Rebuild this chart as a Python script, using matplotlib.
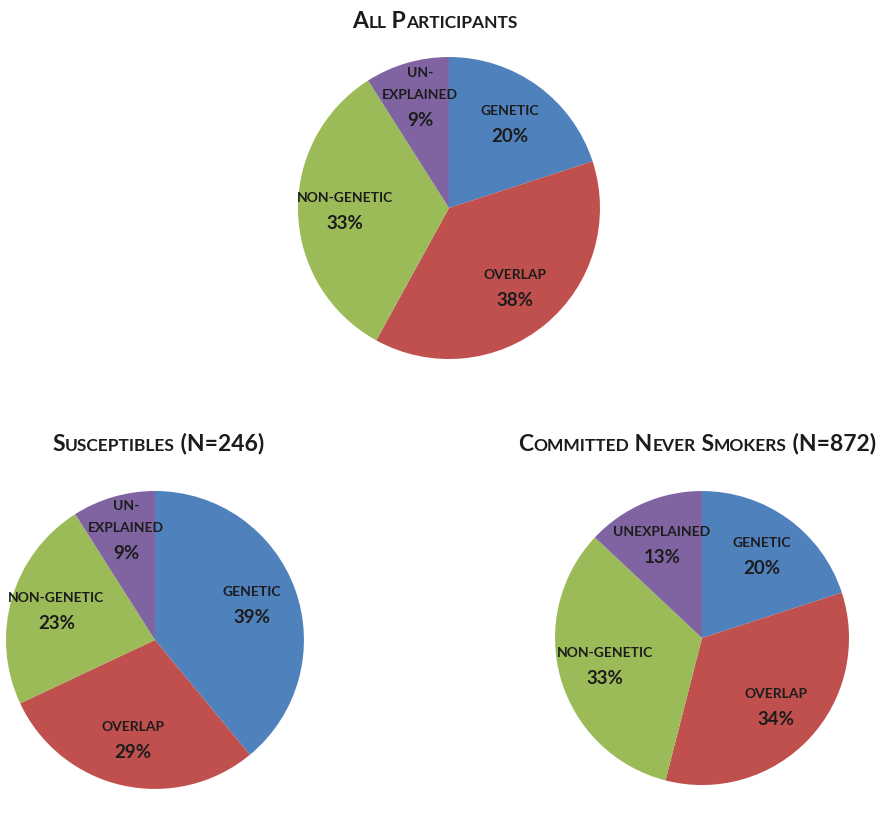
import matplotlib
matplotlib.use("Agg")
import matplotlib.pyplot as plt
from matplotlib.offsetbox import TextArea, HPacker, AnnotationBbox
from matplotlib.transforms import offset_copy

# data
labels_all = ["GENETIC", "OVERLAP", "NON-GENETIC", "UN-\nEXPLAINED"]
values_all = [20, 38, 33, 9]

labels_sus = ["GENETIC", "OVERLAP", "NON-GENETIC", "UN-\nEXPLAINED"]
values_sus = [39, 29, 23, 9]

labels_cns = ["GENETIC", "OVERLAP", "NON-GENETIC", "UNEXPLAINED"]
values_cns = [20, 34, 33, 13]

titles = ["All Participants", "Susceptibles (N=246)", "Committed Never Smokers (N=872)"]

colors = ["#4F81BD", "#C0504D", "#9BBB59", "#8064A2"]
FONT = "Lato"
TXT = "#1c1c1c"

fig = plt.figure(figsize=(8.8, 8.18), dpi=100)


def draw_pie(rect, values, labels, dist=0.69):
    ax = fig.add_axes(rect)
    wedges, texts, pcts = ax.pie(
        values, labels=labels, colors=colors, startangle=90, counterclock=False,
        labeldistance=dist, pctdistance=dist, autopct="%1.0f%%",
        wedgeprops=dict(linewidth=0),
        textprops=dict(family=FONT, fontweight="bold", color=TXT))
    # name above the anchor point, percentage below, with a gap like Excel's
    for t in texts:
        t.set_ha("center")
        t.set_va("bottom")
        t.set_fontsize(10)
        t.set_linespacing(2.0)
        t.set_transform(offset_copy(ax.transData, fig=fig, y=7, units="dots"))
    for p in pcts:
        p.set_ha("center")
        p.set_va("top")
        p.set_fontsize(13.5)
        p.set_transform(offset_copy(ax.transData, fig=fig, y=-4, units="dots"))
    ax.set_xlim(-1, 1)
    ax.set_ylim(-1, 1)
    ax.set_aspect("equal")
    ax.axis("off")
    return ax


def small_caps_title(text, x, y, big=16.5, small=12.5):
    # fake small caps: capitals at full size, lower case letters upper-cased and smaller
    runs = []
    for ch in text:
        size = small if ch.islower() else big
        if runs and runs[-1][1] == size:
            runs[-1][0] += ch.upper()
        else:
            runs.append([ch.upper(), size])
    parts = [TextArea(s, textprops=dict(family=FONT, fontweight="bold", fontsize=sz, color=TXT))
             for s, sz in runs]
    box = HPacker(children=parts, align="baseline", pad=0, sep=0)
    ab = AnnotationBbox(box, (x, y), xycoords="figure fraction", frameon=False,
                        box_alignment=(0.5, 0.5), pad=0)
    fig.add_artist(ab)


draw_pie([0.3386, 0.5611, 0.3432, 0.3692], values_all, labels_all)
draw_pie([0.0068, 0.0355, 0.3386, 0.3643], values_sus, labels_sus)
draw_pie([0.6307, 0.0403, 0.3341, 0.3594], values_cns, labels_cns)

small_caps_title(titles[0], 435 / 880, 1 - 22 / 818)
small_caps_title(titles[1], 158 / 880, 1 - 444 / 818)
small_caps_title(titles[2], 697 / 880, 1 - 444 / 818)

fig.savefig("out.png", dpi=100, facecolor="white")
